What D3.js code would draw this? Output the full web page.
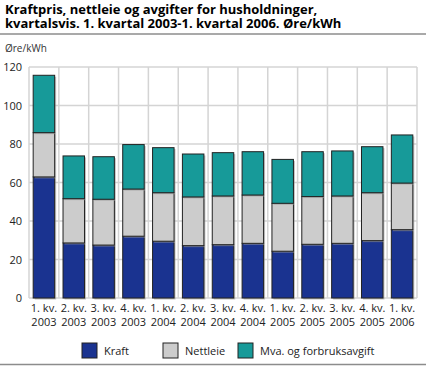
<!DOCTYPE html>
<html>
<head>
<meta charset="utf-8">
<script src="https://cdn.jsdelivr.net/npm/d3@7"></script>
<style>
  body { margin: 0; background: #fff; }
  svg { display: block; font-family: "Open Sans", "DejaVu Sans", sans-serif; }
</style>
</head>
<body>
<script>
var width = 426;
var height = 366;

var quarters = ["1. kv.", "2. kv.", "3. kv.", "4. kv.", "1. kv.", "2. kv.", "3. kv.",
                "4. kv.", "1. kv.", "2. kv.", "3. kv.", "4. kv.", "1. kv."];
var years = ["2003", "2003", "2003", "2003", "2004", "2004", "2004",
             "2004", "2005", "2005", "2005", "2005", "2006"];
var kraft = [62.9, 28.6, 27.5, 32.1, 29.5, 27.2, 27.7, 28.4, 24.3, 27.9, 28.4, 29.8, 35.5];
var nettleie = [23.0, 23.0, 23.8, 24.5, 25.2, 25.3, 25.3, 25.1, 24.9, 24.8, 24.6, 24.9, 24.2];
var mva = [29.8, 22.2, 22.1, 23.1, 23.4, 22.3, 22.5, 22.5, 22.8, 23.3, 23.4, 23.9, 25.0];
var seriesNames = ["Kraft", "Nettleie", "Mva. og forbruksavgift"];
var colors = ["#1a3390", "#cccccc", "#179a99"];
var yTicks = [0, 20, 40, 60, 80, 100, 120];

var margin = {top: 67, right: 9, bottom: 68, left: 29};
var plotW = width - margin.left - margin.right;
var plotH = height - margin.top - margin.bottom;

var rows = quarters.map(function(q, i) {
  return {i: i, Kraft: kraft[i], Nettleie: nettleie[i], "Mva. og forbruksavgift": mva[i]};
});
var stacked = d3.stack().keys(seriesNames)(rows);

var x = d3.scaleBand()
  .domain(d3.range(quarters.length))
  .range([0, plotW])
  .paddingInner(0.28)
  .paddingOuter(0.14);

var y = d3.scaleLinear()
  .domain([0, 120])
  .range([plotH, 0]);

var svg = d3.select("body").append("svg")
  .attr("width", width)
  .attr("height", height);

// title
svg.append("text")
  .attr("x", 5).attr("y", 14)
  .attr("font-size", 13).attr("font-weight", "bold").attr("fill", "#000")
  .text("Kraftpris, nettleie og avgifter for husholdninger,");
svg.append("text")
  .attr("x", 5).attr("y", 28)
  .attr("font-size", 13).attr("font-weight", "bold").attr("fill", "#000")
  .text("kvartalsvis. 1. kvartal 2003-1. kvartal 2006. Øre/kWh");

svg.append("line")
  .attr("x1", 0).attr("x2", width).attr("y1", 34).attr("y2", 34)
  .attr("stroke", "#8c8c8c").attr("stroke-width", 1.5);
svg.append("line")
  .attr("x1", 0).attr("x2", width).attr("y1", 364.5).attr("y2", 364.5)
  .attr("stroke", "#8c8c8c").attr("stroke-width", 1.5);

svg.append("text")
  .attr("x", 5).attr("y", 52)
  .attr("font-size", 10).attr("fill", "#333")
  .text("Øre/kWh");

var g = svg.append("g")
  .attr("transform", "translate(" + margin.left + "," + margin.top + ")");

// grid
g.selectAll(".hgrid")
  .data(yTicks)
  .enter().append("line")
  .attr("x1", 0).attr("x2", plotW)
  .attr("y1", function(d) { return y(d); })
  .attr("y2", function(d) { return y(d); })
  .attr("stroke", "#d4d4d4").attr("stroke-width", 1.5);

var step = x.step();
g.selectAll(".vgrid")
  .data(d3.range(quarters.length + 1))
  .enter().append("line")
  .attr("x1", function(d) { return d * step; })
  .attr("x2", function(d) { return d * step; })
  .attr("y1", 0).attr("y2", plotH)
  .attr("stroke", "#d4d4d4").attr("stroke-width", 1.5);

// y tick labels
g.selectAll(".ytick")
  .data(yTicks)
  .enter().append("text")
  .attr("x", -7)
  .attr("y", function(d) { return y(d) + 4; })
  .attr("text-anchor", "end")
  .attr("font-size", 11).attr("fill", "#222")
  .text(function(d) { return d; });

// bars
var layers = g.selectAll(".layer")
  .data(stacked)
  .enter().append("g")
  .attr("fill", function(d, i) { return colors[i]; });

layers.selectAll("rect.shadow")
  .data(function(d) { return d; })
  .enter().append("rect")
  .attr("x", function(d) { return x(d.data.i) + 1.5; })
  .attr("y", function(d) { return y(d[1]) + 1.5; })
  .attr("width", x.bandwidth())
  .attr("height", function(d) { return y(d[0]) - y(d[1]); })
  .attr("fill", "#999").attr("opacity", 0.6);

layers.selectAll("rect.bar")
  .data(function(d) { return d; })
  .enter().append("rect")
  .attr("x", function(d) { return x(d.data.i); })
  .attr("y", function(d) { return y(d[1]); })
  .attr("width", x.bandwidth())
  .attr("height", function(d) { return y(d[0]) - y(d[1]); })
  .attr("stroke", "#222").attr("stroke-width", 1);

// x labels
var xl = g.selectAll(".xlab")
  .data(quarters)
  .enter().append("text")
  .attr("text-anchor", "middle")
  .attr("font-size", 11).attr("fill", "#222")
  .attr("transform", function(d, i) {
    return "translate(" + (x(i) + x.bandwidth() / 2) + "," + (plotH + 14) + ")";
  });
xl.append("tspan").attr("x", 0).attr("y", 0).text(function(d) { return d; });
xl.append("tspan").attr("x", 0).attr("y", 14).text(function(d, i) { return years[i]; });

// legend
var legendX = [82, 163, 238];
var legend = svg.selectAll(".legend")
  .data(seriesNames)
  .enter().append("g")
  .attr("transform", function(d, i) { return "translate(" + legendX[i] + ",343)"; });
legend.append("rect")
  .attr("width", 15).attr("height", 15)
  .attr("fill", function(d, i) { return colors[i]; })
  .attr("stroke", "#222").attr("stroke-width", 1);
legend.append("text")
  .attr("x", 22).attr("y", 12)
  .attr("font-size", 11).attr("fill", "#222")
  .text(function(d) { return d; });
</script>
</body>
</html>
